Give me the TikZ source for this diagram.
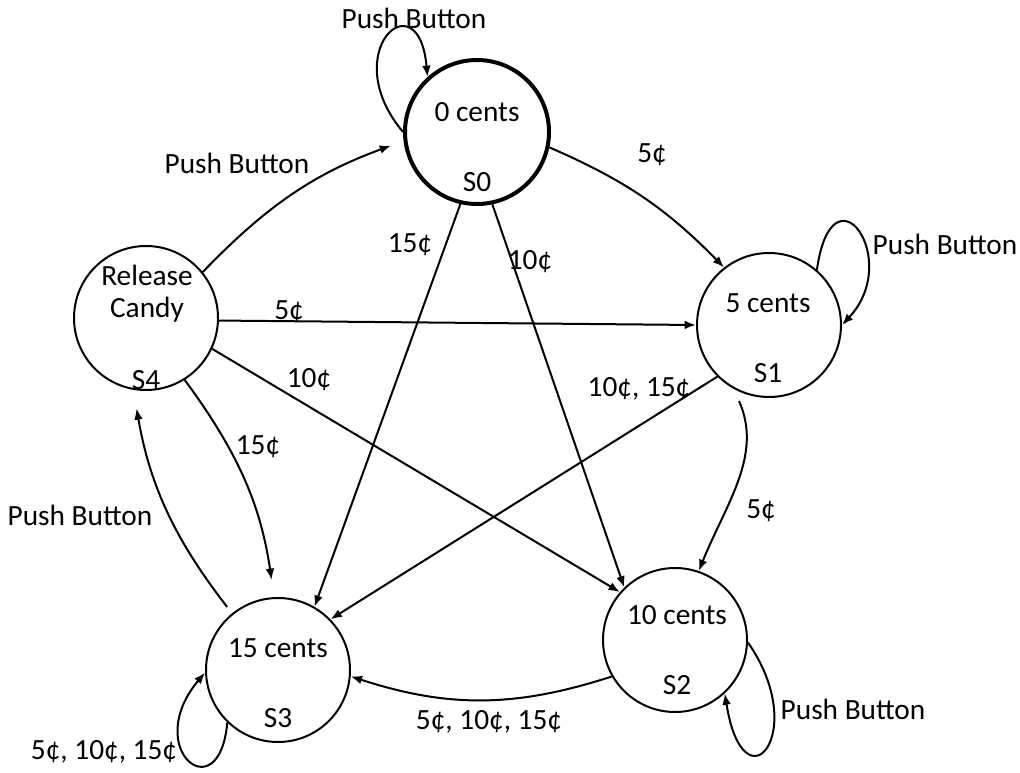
\documentclass[tikz,border=0pt]{standalone}
\usepackage{fontspec}
\setmainfont{Carlito}
\usetikzlibrary{arrows.meta}
\begin{document}
\begin{tikzpicture}[x=0.75pt,y=0.75pt,
  state/.style={circle,draw,line width=1.5pt,minimum size=108pt,inner sep=0pt},
  startstate/.style={state,line width=3pt},
  txt/.style={inner sep=0pt,anchor=center,font=\fontsize{22}{26}\selectfont},
  edge/.style={line width=1.5pt,-{Latex[length=8.5pt,width=6.5pt]}}]
\useasboundingbox (0,0) rectangle (1020,772);
% states
\node[startstate] (s0) at (477,640) {};
\node[state] (s1) at (769,447) {};
\node[state] (s2) at (675,132) {};
\node[state] (s3) at (278,102) {};
\node[state] (s4) at (146,454) {};
% state texts
\node[txt] (s0a) at (477,660) {0 cents};
\node[txt] (s0b) at (477,590) {S0};
\node[txt] (s1a) at (768,469) {5 cents};
\node[txt] (s1b) at (768,399) {S1};
\node[txt] (s2a) at (677,157) {10 cents};
\node[txt] (s2b) at (677,87) {S2};
\node[txt] (s3a) at (278,124) {15 cents};
\node[txt] (s3b) at (278,54) {S3};
\node[txt] (s4a) at (147,497) {Release};
\node[txt] (s4b) at (147,462) {Candy};
\node[txt] (s4c) at (146,392) {S4};
% self loops
\draw[edge] (s0.180) .. controls +(130:105) and +(95:100) .. (s0.132);
\draw[edge] (s1.49) .. controls +(82:110) and +(47:90) .. (s1.0);
\draw[edge] (s2.-2) .. controls +(-55:110) and +(-81:120) .. (s2.-47);
\draw[edge] (s3.226) .. controls +(-95:90) and +(230:100) .. (s3.182);
% curved transitions
\draw[edge,shorten >=10pt] (s4.39) to[bend left=13] (s0.187);
\draw[edge] (s0.-12) to[bend left=11] (s1.128);
\draw[edge,shorten >=13pt] (s4.-58) to[bend left=14] (s3.93);
\draw[edge,shorten >=14pt,shorten <=6pt] (s3.129) to[bend left=14] (s4.260);
\draw[edge,shorten <=10pt] (s1.241) to[out=-66,in=68] (s2.71);
\draw[edge] (s2.210) to[bend left=18] (s3.-5);
% straight transitions
\draw[edge] (s0.257) -- (s3.60);
\draw[edge] (s0.282) -- (s2.134);
\draw[edge] (s4.-2) -- (s1.180);
\draw[edge] (s4.-25) -- (s2.139);
\draw[edge] (s1.225) -- (s3.44);
% labels
\node[txt] (l1) at (414,754) {Push Button};
\node[txt] (l2) at (237,609) {Push Button};
\node[txt] (l3) at (652,617) {5¢};
\node[txt] (l4) at (410,527) {15¢};
\node[txt] (l5) at (530,510) {10¢};
\node[txt] (l6) at (289,460) {5¢};
\node[txt] (l7) at (309,392) {10¢};
\node[txt] (l8) at (258,325) {15¢};
\node[txt] (l9) at (80,257) {Push Button};
\node[txt] (l10) at (639,383) {10¢, 15¢};
\node[txt] (l11) at (761,261) {5¢};
\node[txt] (l12) at (489,50) {5¢, 10¢, 15¢};
\node[txt] (l13) at (945,528) {Push Button};
\node[txt] (l14) at (853,63) {Push Button};
\node[txt] (l15) at (104,20) {5¢, 10¢, 15¢};
\end{tikzpicture}
\end{document}
